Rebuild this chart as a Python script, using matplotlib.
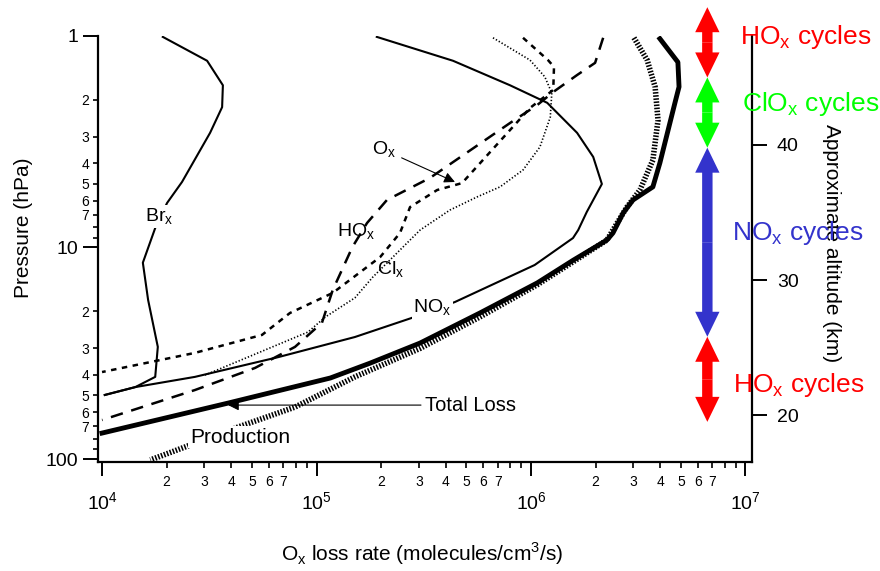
import numpy as np
import matplotlib
matplotlib.use('Agg')
import matplotlib.pyplot as plt
from matplotlib.ticker import LogLocator, FuncFormatter, NullLocator, FixedLocator
from matplotlib.patches import FancyArrowPatch, ArrowStyle

plt.rcParams['font.family'] = ['Liberation Sans', 'DejaVu Sans']

# Ox loss rates (molecules/cm3/s) vs pressure (hPa)
brx_p = [1.01, 1.31, 1.71, 2.17, 2.87, 4.9, 6.16, 8.09, 11.8, 17.7, 29.5, 40.9, 45.7, 49.8]
brx_rate = [1.92e4, 3.09e4, 3.66e4, 3.63e4, 3.19e4, 2.36e4, 2.01e4, 1.77e4, 1.55e4, 1.64e4, 1.82e4, 1.77e4, 1.43e4, 1.03e4]

nox_p = [1.01, 1.31, 1.71, 2.07, 2.87, 3.73, 5.01, 6.79, 8.27, 9.02, 12.1, 18.1, 21.5, 26.5, 33.0, 40.9, 45.7, 49.8]
nox_rate = [1.91e5, 4.33e5, 7.98e5, 1.19e6, 1.64e6, 1.95e6, 2.14e6, 1.82e6, 1.66e6, 1.57e6, 1.04e6, 4.42e5, 2.79e5, 1.51e5, 6.62e4, 2.71e4, 1.43e4, 1.03e4]

hox_p = [1.02, 1.34, 1.53, 1.84, 2.12, 2.58, 4.69, 5.96, 7.66, 9.95, 15.9, 22.7, 29.5, 37.1, 47.2, 65.4]
hox_rate = [2.17e6, 1.99e6, 1.64e6, 1.27e6, 1.07e6, 7.98e5, 3.38e5, 2.13e5, 1.72e5, 1.47e5, 1.19e5, 1.06e5, 7.94e4, 5.17e4, 2.71e4, 1.0e4]

ox_p = [1.02, 1.30, 1.40, 1.80, 2.19, 4.96, 5.35, 6.44, 8.54, 11.1, 16.4, 20.4, 25.9, 31.5, 38.8]
ox_rate = [9.18e5, 1.20e6, 1.28e6, 1.27e6, 9.89e5, 4.77e5, 3.65e5, 2.73e5, 2.45e5, 1.98e5, 1.19e5, 7.52e4, 5.57e4, 2.71e4, 1.0e4]

clx_p = [1.02, 1.30, 1.56, 1.86, 2.42, 3.35, 4.30, 5.17, 5.77, 6.65, 8.27, 11.1, 13.8, 17.3, 21.3, 25.1, 40.1]
clx_rate = [6.65e5, 9.89e5, 1.16e6, 1.25e6, 1.23e6, 1.10e6, 9.18e5, 7.17e5, 5.60e5, 4.19e5, 3.04e5, 2.27e5, 1.83e5, 1.51e5, 1.10e5, 9.13e4, 3.02e4]

total_p = [1.03, 1.33, 1.74, 2.07, 3.98, 5.17, 5.96, 6.87, 8.54, 9.22, 11.5, 14.7, 20.4, 28.3, 35.2, 41.4, 54.4, 75.4]
total_rate = [3.99e6, 4.84e6, 4.90e6, 4.69e6, 3.99e6, 3.70e6, 2.99e6, 2.69e6, 2.41e6, 2.26e6, 1.57e6, 1.07e6, 5.78e5, 3.04e5, 1.78e5, 1.16e5, 3.87e4, 1.0e4]

prod_p = [1.02, 1.30, 1.74, 2.50, 3.86, 5.35, 6.44, 7.66, 9.22, 11.7, 15.0, 21.3, 30.0, 40.9, 56.8, 70.6, 87.7, 101]
prod_rate = [3.02e6, 3.48e6, 3.79e6, 3.91e6, 3.70e6, 3.22e6, 2.80e6, 2.52e6, 2.26e6, 1.57e6, 1.07e6, 5.78e5, 3.04e5, 1.51e5, 7.94e4, 4.31e4, 2.44e4, 1.68e4]

# altitude ranges (km) of the dominant catalytic cycles
cycle_names = ['HO$_\\mathregular{x}$ cycles', 'ClO$_\\mathregular{x}$ cycles',
               'NO$_\\mathregular{x}$ cycles', 'HO$_\\mathregular{x}$ cycles']
cycle_top = [50.2, 45.0, 39.8, 25.8]
cycle_bottom = [45.0, 39.8, 25.8, 19.5]
cycle_colors = ['#ff0000', '#00ff00', '#3333cc', '#ff0000']
alt_ticks = [20, 30, 40]


def p2z(p):
    return 48.07 - 15.66 * np.log10(p)


def z2p(z):
    return 10 ** ((48.07 - np.asarray(z)) / 15.66)


fig = plt.figure(figsize=(8.8, 5.71), dpi=100)
ax = fig.add_axes([0.1114, 0.1909, 0.7431, 0.7461])

ax.plot(brx_rate, brx_p, color='black', lw=1.5)
ax.plot(nox_rate, nox_p, color='black', lw=1.5)
ax.plot(hox_rate, hox_p, color='black', lw=1.8, dashes=(5, 3.5))
ax.plot(ox_rate, ox_p, color='black', lw=1.8, dashes=(2.2, 2.2))
ax.plot(clx_rate, clx_p, color='black', lw=1.2, dashes=(0.8, 1.2))
ax.plot(prod_rate, prod_p, color='black', lw=4, dashes=(0.28, 0.28))
ax.plot(total_rate, total_p, color='black', lw=3.5)

ax.set_xscale('log')
ax.set_yscale('log')
ax.set_xlim(9.58e3, 1.072e7)
ax.set_ylim(103.3, 1)

ax.spines['top'].set_visible(False)
ax.spines['right'].set_visible(False)
ax.spines['left'].set_linewidth(1.6)
ax.spines['bottom'].set_linewidth(1.6)


def plain_major(v, pos):
    return f'{v:g}'


def minor_lab(v, pos):
    m = int(round(v / 10 ** np.floor(np.log10(v) + 1e-9)))
    return str(m) if 2 <= m <= 7 else ''


ax.xaxis.set_major_locator(LogLocator(base=10))
ax.xaxis.set_minor_locator(LogLocator(base=10, subs=np.arange(2, 10)))
ax.xaxis.set_minor_formatter(FuncFormatter(minor_lab))
ax.yaxis.set_major_locator(LogLocator(base=10))
ax.yaxis.set_minor_locator(LogLocator(base=10, subs=np.arange(2, 10)))
ax.yaxis.set_major_formatter(FuncFormatter(plain_major))
ax.yaxis.set_minor_formatter(FuncFormatter(minor_lab))

ax.tick_params(axis='x', which='major', length=10, width=1.4, pad=11, labelsize=14)
ax.tick_params(axis='x', which='minor', length=4.5, width=1.2, pad=5, labelsize=10)
ax.tick_params(axis='y', which='major', length=11, width=1.4, pad=3, labelsize=14)
ax.tick_params(axis='y', which='minor', length=3.5, width=1.2, pad=3, labelsize=10)

ax.set_xlabel('O$_\\mathregular{x}$ loss rate (molecules/cm$^\\mathregular{3}$/s)', fontsize=15)
ax.xaxis.set_label_coords(0.495, -0.183)
ax.set_ylabel('Pressure (hPa)', fontsize=15)
ax.yaxis.set_label_coords(-0.099, 0.549)

# right altitude axis
ax2 = ax.secondary_yaxis('right', functions=(p2z, z2p))
ax2.yaxis.set_major_locator(FixedLocator(alt_ticks))
ax2.yaxis.set_minor_locator(NullLocator())
ax2.yaxis.set_major_formatter(FuncFormatter(plain_major))
ax2.tick_params(axis='y', length=11, width=1.4, pad=7, labelsize=14)
ax2.spines['right'].set_linewidth(1.6)
ax2.set_ylabel('Approximate altitude (km)', fontsize=15, rotation=270,
               va='center', ha='center')
ax2.yaxis.set_label_coords(1.121, 0.514, transform=ax.transAxes)

# curve labels
white = dict(facecolor='white', edgecolor='none', pad=1)
ax.text(1.59e4, 7.17, 'Br$_\\mathregular{x}$', fontsize=14, va='center', bbox=white)
ax.text(1.25e5, 8.45, 'HO$_\\mathregular{x}$', fontsize=14, va='center')
ax.text(1.91e5, 12.8, 'Cl$_\\mathregular{x}$', fontsize=14, va='center')
ax.text(2.82e5, 19.3, 'NO$_\\mathregular{x}$', fontsize=14, va='center', bbox=white)
ax.text(2.57e4, 78.7, 'Production', fontsize=15, va='center', bbox=white)
ax.annotate('O$_\\mathregular{x}$', xy=(4.42e5, 4.9), xytext=(1.82e5, 3.46),
            fontsize=14, va='center',
            arrowprops=dict(arrowstyle='-|>', color='black', lw=0.8,
                            mutation_scale=16, shrinkA=2, shrinkB=0))
ax.annotate('Total Loss', xy=(3.87e4, 55.6), xytext=(3.21e5, 55.6),
            fontsize=14.5, va='center',
            arrowprops=dict(arrowstyle='-|>', color='black', lw=0.8,
                            mutation_scale=16, shrinkA=1, shrinkB=0,
                            relpos=(0, 0.5)))

# cycle arrows
arrow_x = 6.64e6
label_x = [9.42e6, 9.6e6, 8.65e6, 8.74e6]
label_z = [48.0, 43.0, 33.5, 22.2]
style = ArrowStyle.Simple(head_length=18, head_width=17.5, tail_width=7.5)
for name, top, bot, col, lx, lz in zip(cycle_names, cycle_top, cycle_bottom,
                                        cycle_colors, label_x, label_z):
    mid = z2p((top + bot) / 2)
    for end in (top, bot):
        arr = FancyArrowPatch((arrow_x, mid), (arrow_x, z2p(end)), arrowstyle=style,
                              mutation_scale=1, color=col, lw=0, shrinkA=0, shrinkB=0,
                              clip_on=False, zorder=5)
        ax.add_patch(arr)
    ax.text(lx, z2p(lz), name, color=col, fontsize=19, va='center', ha='left',
            clip_on=False, zorder=6)

fig.savefig('out.png', dpi=100)
